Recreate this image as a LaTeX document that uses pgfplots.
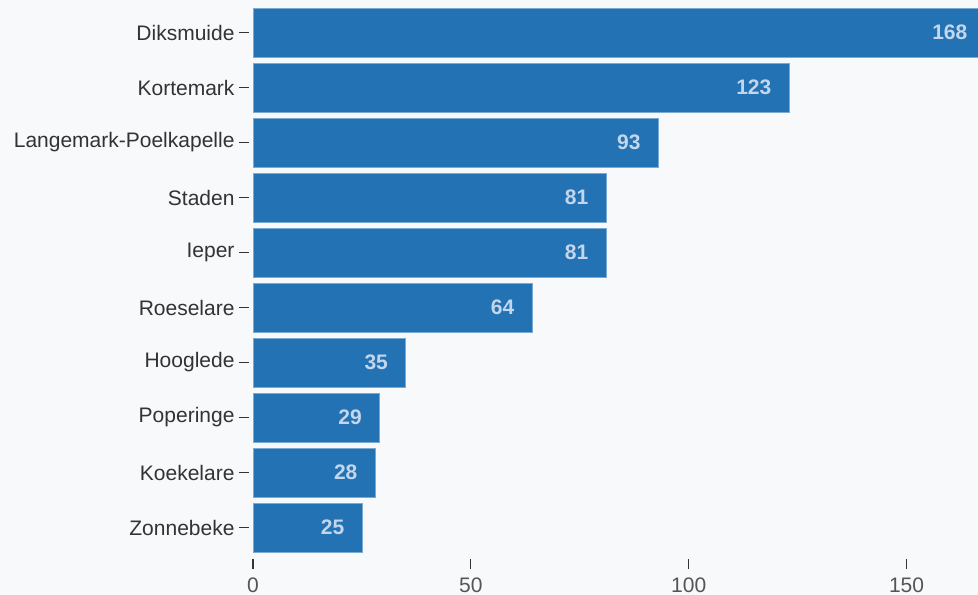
\documentclass[border=0pt]{standalone}
\usepackage{pgfplots}
\pgfplotsset{compat=1.18}
\usepackage{fontspec}
\setmainfont{Liberation Sans}
\definecolor{bg}{HTML}{F8F9FB}
\definecolor{barc}{HTML}{2272B4}
\definecolor{lab}{HTML}{C4D6EC}
\definecolor{txt}{HTML}{333333}
\definecolor{tck}{HTML}{555555}
\pgfplotstableread{
idx val
0 168
1 123
2 93
3 81
4 81
5 64
6 35
7 29
8 28
9 25
}\datatable
\begin{document}
\begin{tikzpicture}
\fill[bg] (0,0) rectangle (978bp,595bp);
\useasboundingbox (0,0) rectangle (978bp,595bp);
\begin{axis}[
  at={(253bp,40bp)}, anchor=south west,
  scale only axis, width=725bp, height=550bp,
  xbar, bar width=0.89,
  xmin=0, xmax=166.4,
  ymin=-0.5, ymax=9.5, y dir=reverse,
  ytick={0,...,9},
  yticklabels={Diksmuide,Kortemark,Langemark-Poelkapelle,Staden,Ieper,Roeselare,Hooglede,Poperinge,Koekelare,Zonnebeke},
  xtick={0,50,100,150},
  axis lines*=left,
  axis line style={draw=none},
  tick align=outside,
  major tick length=10bp,
  xtick style={draw=txt, line width=1.2bp, yshift=-4bp},
  ytick style={draw=txt, line width=1.2bp, xshift=-4bp},
  yticklabel style={font=\fontsize{21bp}{24bp}\selectfont, text=txt, xshift=-5bp},
  xticklabel style={font=\fontsize{21bp}{24bp}\selectfont, text=tck, yshift=-9bp},
  /pgf/number format/assume math mode=true,
  tick label style={/pgf/number format/1000 sep={}},
  nodes near coords,
  every node near coord/.append style={font=\bfseries\fontsize{21bp}{24bp}\selectfont, text=lab, anchor=east, xshift=-14bp},
  clip=false,
]
\addplot[fill=barc, draw=barc!60!white, line width=0.6bp] table[x=val, y=idx] {\datatable};
\end{axis}
\end{tikzpicture}
\end{document}
